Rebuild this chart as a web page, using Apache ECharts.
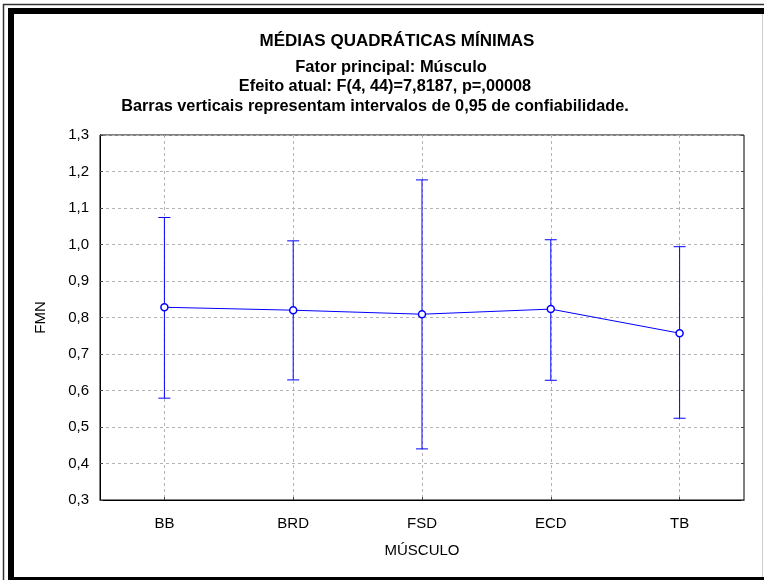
<!DOCTYPE html>
<html>
<head>
<meta charset="utf-8">
<script src="https://cdn.jsdelivr.net/npm/echarts@6/dist/echarts.min.js"></script>
<style>
  html, body { margin: 0; padding: 0; background: #fff; }
  #chart { width: 764px; height: 580px; }
</style>
</head>
<body>
<div id="chart"></div>
<script>
// Least-squares means of FMN per muscle, with 95% confidence limits
const categories = ['BB', 'BRD', 'FSD', 'ECD', 'TB'];
const means = [0.828, 0.820, 0.809, 0.823, 0.757];
const upperLimits = [1.074, 1.010, 1.177, 1.013, 0.994];
const lowerLimits = [0.579, 0.629, 0.440, 0.628, 0.524];
const yTicks = { min: 0.3, max: 1.3, step: 0.1 };

const titleLines = [
  'MÉDIAS QUADRÁTICAS MÍNIMAS',
  'Fator principal: Músculo',
  'Efeito atual: F(4, 44)=7,8187, p=,00008',
  'Barras verticais representam intervalos de 0,95 de confiabilidade.'
];

const FONT = "'Liberation Sans', Arial, sans-serif";
const BLUE = '#0000ff';

const errorData = categories.map((c, i) => [i, lowerLimits[i], upperLimits[i]]);

// heading block: centre x, centre y and size of each line
const titleX = [397, 391, 385, 375];
const titleY = [41, 67, 87, 107];
const titleSizes = [17, 16.5, 16.3, 16.3];

const headingText = titleLines.map((t, i) => ({
  type: 'text',
  silent: true,
  style: {
    text: t,
    x: titleX[i],
    y: titleY[i],
    align: 'center',
    verticalAlign: 'middle',
    font: 'bold ' + titleSizes[i] + 'px ' + FONT,
    fill: '#000'
  }
}));

const chart = echarts.init(document.getElementById('chart'), null, { renderer: 'canvas' });

chart.setOption({
  backgroundColor: '#ffffff',
  animation: false,
  graphic: [
    // outer thin frame
    { type: 'rect', silent: true, shape: { x: 3.5, y: 4.5, width: 900, height: 900 },
      style: { fill: null, stroke: '#333', lineWidth: 1.5 } },
    // thick black frame
    { type: 'rect', silent: true, shape: { x: 11, y: 11, width: 900, height: 569 },
      style: { fill: null, stroke: '#000', lineWidth: 6 } },
    // faint right edge
    { type: 'line', silent: true, shape: { x1: 762.5, y1: 14, x2: 762.5, y2: 577 },
      style: { stroke: '#cfcfcf', lineWidth: 1 } }
  ].concat(headingText),
  grid: {
    left: 100, right: 20, top: 135, bottom: 80,
    show: true, borderColor: '#000', borderWidth: 1, backgroundColor: 'transparent'
  },
  xAxis: {
    type: 'category',
    data: categories,
    boundaryGap: true,
    name: 'MÚSCULO',
    nameLocation: 'middle',
    nameGap: 43,
    nameTextStyle: { fontFamily: FONT, fontSize: 15, color: '#000' },
    axisLine: { lineStyle: { color: '#000', width: 1 } },
    axisTick: { show: true, inside: true, length: 3, alignWithLabel: true, lineStyle: { color: '#444' } },
    axisLabel: { fontFamily: FONT, fontSize: 15, color: '#000', margin: 16 },
    splitLine: { show: true, alignWithLabel: true, lineStyle: { color: '#b4b4b4', type: [3, 3], width: 1 } }
  },
  yAxis: [{
    type: 'value',
    min: yTicks.min,
    max: yTicks.max,
    interval: yTicks.step,
    name: 'FMN',
    nameLocation: 'middle',
    nameGap: 52,
    nameTextStyle: { fontFamily: FONT, fontSize: 15, color: '#000' },
    axisLine: { show: true, lineStyle: { color: '#000', width: 1 } },
    axisTick: { show: true, inside: true, length: 3, lineStyle: { color: '#444' } },
    axisLabel: {
      fontFamily: FONT, fontSize: 15, color: '#000', margin: 11,
      formatter: v => v.toFixed(1).replace('.', ',')
    },
    splitLine: { show: true, lineStyle: { color: '#b4b4b4', type: [3, 3], width: 1 } }
  }, {
    type: 'value',
    position: 'right',
    min: yTicks.min,
    max: yTicks.max,
    interval: yTicks.step,
    axisLine: { show: false },
    axisTick: { show: true, inside: true, length: 3, lineStyle: { color: '#444' } },
    axisLabel: { show: false },
    splitLine: { show: false }
  }],
  series: [
    {
      type: 'custom',
      name: 'IC 95%',
      z: 3,
      data: errorData,
      renderItem: function (params, api) {
        const x = api.value(0);
        const lo = api.coord([x, api.value(1)]);
        const hi = api.coord([x, api.value(2)]);
        const half = 6;
        const style = { stroke: BLUE, lineWidth: 1 };
        return {
          type: 'group',
          children: [
            { type: 'line', shape: { x1: hi[0], y1: hi[1], x2: lo[0], y2: lo[1] }, style: style },
            { type: 'line', shape: { x1: hi[0] - half, y1: hi[1], x2: hi[0] + half, y2: hi[1] }, style: style },
            { type: 'line', shape: { x1: lo[0] - half, y1: lo[1], x2: lo[0] + half, y2: lo[1] }, style: style }
          ]
        };
      }
    },
    {
      type: 'line',
      name: 'FMN',
      z: 4,
      data: means,
      symbol: 'circle',
      symbolSize: 7,
      lineStyle: { color: BLUE, width: 1 },
      itemStyle: { color: '#ffffff', borderColor: BLUE, borderWidth: 1.5 }
    }
  ]
});
</script>
</body>
</html>
